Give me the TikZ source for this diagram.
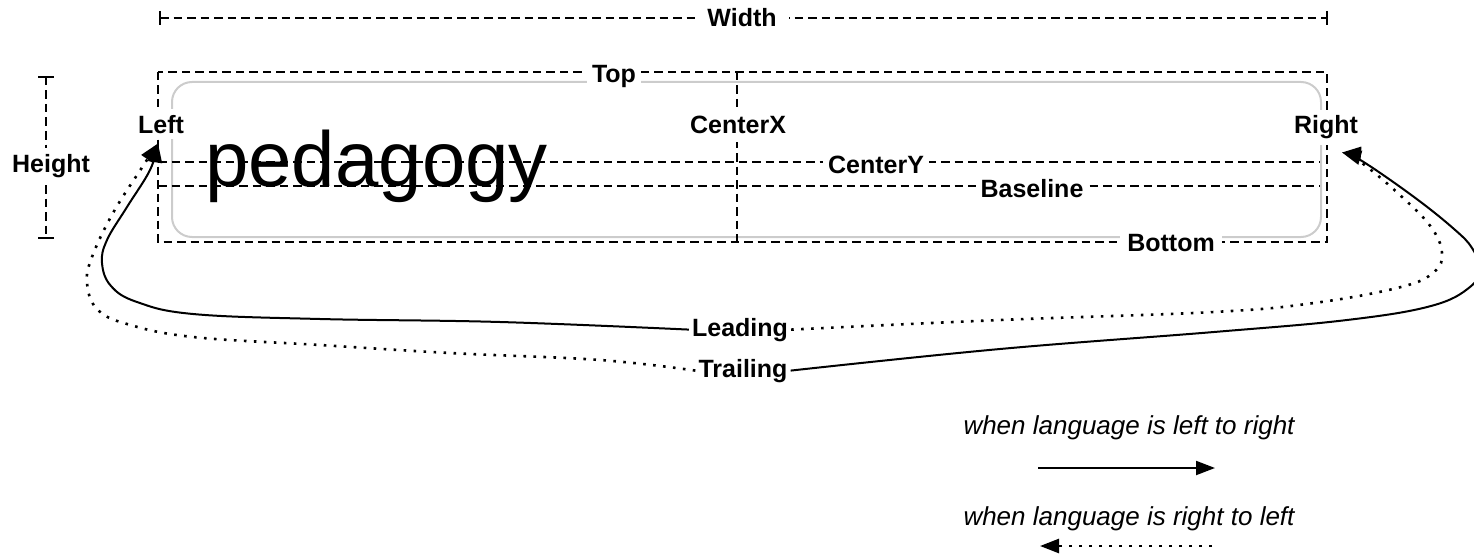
\documentclass[tikz,border=0pt]{standalone}
\usepackage{fontspec}
\setmainfont{Liberation Sans}
\usetikzlibrary{arrows.meta}

\begin{document}
\begin{tikzpicture}[x=1pt,y=-1pt,
  lbl/.style={font=\fontsize{25}{30}\selectfont\bfseries, fill=white,
              inner xsep=5pt, inner ysep=6pt, anchor=base},
  guide/.style={line width=2pt, dash pattern=on 8.5pt off 5pt},
  tick/.style={line width=2pt},
  tip/.style={-{Triangle[length=19pt,width=14pt]}},
  solidarrow/.style={line width=2pt, tip},
  dottedarrow/.style={line width=2.6pt, dash pattern=on 2.6pt off 7.4pt, tip},
  note/.style={font=\fontsize{26}{30}\selectfont\itshape, anchor=base},
]
\useasboundingbox (0,0) rectangle (1474,559);

% sample word
\node[font=\fontsize{78}{80}\selectfont, anchor=base west, inner sep=0pt]
  (word) at (205,186) {pedagogy};

% rounded text field
\draw[line width=2pt, color=black!20, rounded corners=20pt]
  (172,82) rectangle (1321,237);

% frame and guide lines
\draw[guide] (158,72) rectangle (1327,242);
\draw[guide] (737,72) -- (737,242);
\draw[guide] (158,162) -- (1320,162);
\draw[guide] (158,186) -- (1320,186);

% width dimension
\draw[guide] (160,18) -- (1327,18);
\draw[tick] (160,11) -- (160,25);
\draw[tick] (1327,11) -- (1327,25);

% height dimension
\draw[guide] (46,77) -- (46,238);
\draw[tick] (38,77) -- (54,77);
\draw[tick] (38,238) -- (54,238);

% labels
\node[lbl, inner xsep=12pt] (width) at (742,27) {Width};
\node[lbl] (top) at (614,83) {Top};
\node[lbl, inner xsep=7pt] (bottom) at (1171,251) {Bottom};
\node[lbl] (left) at (161,133) {Left};
\node[lbl] (right) at (1326,134) {Right};
\node[lbl, inner ysep=9pt] (cx) at (738,133) {CenterX};
\node[lbl] (cy) at (876,173) {CenterY};
\node[lbl] (bl) at (1032,197) {Baseline};
\node[lbl] (height) at (51,172) {Height};
\node[lbl, fill=none, inner xsep=3pt] (leading) at (740,336) {Leading};
\node[lbl, fill=none, inner xsep=3pt] (trailing) at (743,377) {Trailing};

% leading / trailing connectors
\draw[solidarrow] plot[smooth, tension=0.65] coordinates {
  (leading.west) (500,322) (320,319) (193,314) (137,302) (111,286)
  (102,263) (107,240) (127,207) (150,170) ([shift={(-3pt,-4pt)}]left.south)};
\draw[dottedarrow] plot[smooth, tension=0.65] coordinates {
  (trailing.west) (600,360) (450,353) (320,345) (193,337) (127,324)
  (97,309) (87,283) (92,257) (113,213) (143,166) ([shift={(-3pt,-4pt)}]left.south)};
\draw[dottedarrow] plot[smooth, tension=0.65] coordinates {
  (leading.east) (1000,320) (1214,312) (1314,303) (1401,287) (1434,272)
  (1442,253) (1431,227) (1401,196) (1362,163) ([shift={(16pt,-7pt)}]right.south)};
\draw[solidarrow] plot[smooth, tension=0.65] coordinates {
  (trailing.east) (1000,349) (1214,332) (1347,320) (1431,306) (1470,287)
  (1479,268) (1472,248) (1454,229) (1414,197) (1362,161) ([shift={(16pt,-7pt)}]right.south)};

% legend
\node[note] (ltr) at (1129,434) {when language is left to right};
\node[note] (rtl) at (1129,525) {when language is right to left};
\coordinate (ltrA) at (1038,468);
\coordinate (ltrB) at (1215,468);
\coordinate (rtlA) at (1212,546);
\coordinate (rtlB) at (1040,546);
\draw[solidarrow] (ltrA) -- (ltrB);
\draw[dottedarrow] (rtlA) -- (rtlB);
\end{tikzpicture}
\end{document}
